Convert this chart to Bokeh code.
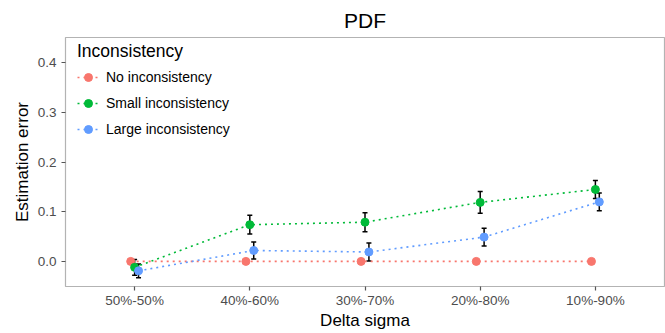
from bokeh.plotting import figure
from bokeh.models import (ColumnDataSource, Whisker, FixedTicker, Legend, LegendItem,
                          Range1d, TeeHead, NumeralTickFormatter)
from bokeh.embed import file_html
from bokeh.resources import INLINE

categories = ["50%-50%", "40%-60%", "30%-70%", "20%-80%", "10%-90%"]
series_names = ["No inconsistency", "Small inconsistency", "Large inconsistency"]
no_incons = [0.0, 0.0, 0.0, 0.0, 0.0]
small_incons = [-0.012, 0.074, 0.079, 0.119, 0.145]
large_incons = [-0.019, 0.022, 0.019, 0.049, 0.120]
small_err = [0.016, 0.019, 0.019, 0.022, 0.018]
large_err = [0.014, 0.017, 0.018, 0.018, 0.018]
colors = ["#F8766D", "#00BA38", "#619CFF"]
dodge = [-0.034, 0.0, 0.034]

FONT = "Liberation Sans"

p = figure(width=665, height=333, output_backend="svg", toolbar_location=None,
           x_range=Range1d(0.4, 5.6), y_range=Range1d(-0.0506, 0.4514),
           min_border_left=65, min_border_right=1, min_border_top=35, min_border_bottom=47,
           title="PDF")
p.background_fill_color = "white"
p.border_fill_color = "white"
p.outline_line_color = "#B3B3B3"
p.outline_line_width = 1.2
p.xgrid.visible = False
p.ygrid.visible = False

p.title.text_font = FONT
p.title.text_font_size = "21px"
p.title.text_font_style = "normal"
p.title.align = "center"
p.title.text_color = "black"
p.title.standoff = 12

base_x = list(range(1, len(categories) + 1))

p.xaxis.ticker = FixedTicker(ticks=base_x)
p.xaxis.major_label_overrides = {i + 1: c for i, c in enumerate(categories)}
p.yaxis.ticker = FixedTicker(ticks=[0.0, 0.1, 0.2, 0.3, 0.4])
p.yaxis.formatter = NumeralTickFormatter(format="0.0")
for ax in (p.xaxis, p.yaxis):
    ax.axis_line_color = None
    ax.major_tick_line_color = "#555555"
    ax.major_tick_line_width = 1.2
    ax.major_tick_in = 0
    ax.major_tick_out = 4
    ax.minor_tick_line_color = None
    ax.major_label_text_font = FONT
    ax.major_label_text_font_size = "13.5px"
    ax.major_label_text_color = "#4D4D4D"
    ax.axis_label_text_font = FONT
    ax.axis_label_text_font_size = "17px"
    ax.axis_label_text_font_style = "normal"
    ax.axis_label_text_color = "black"
p.xaxis.axis_label = "Delta sigma"
p.yaxis.axis_label = "Estimation error"
p.xaxis.major_label_standoff = 2
p.yaxis.major_label_standoff = 5
p.xaxis.axis_label_standoff = 0
p.yaxis.axis_label_standoff = 3

values = [no_incons, small_incons, large_incons]
errors = [None, small_err, large_err]
items = []
line_rs, pt_rs = [], []
for k in range(3):
    xs = [b + dodge[k] for b in base_x]
    src = dict(x=xs, y=values[k])
    if errors[k] is not None:
        src["lower"] = [v - e for v, e in zip(values[k], errors[k])]
        src["upper"] = [v + e for v, e in zip(values[k], errors[k])]
    source = ColumnDataSource(src)
    lr = p.line("x", "y", source=source, line_color=colors[k], line_width=1.6, line_dash="2 4")
    line_rs.append(lr)
    if errors[k] is not None:
        w = Whisker(base="x", lower="lower", upper="upper", source=source,
                    line_color="black", line_width=1.5,
                    upper_head=TeeHead(size=5, line_color="black", line_width=1.5),
                    lower_head=TeeHead(size=5, line_color="black", line_width=1.5))
        p.add_layout(w)
    pr = p.scatter("x", "y", source=source, size=8, fill_color=colors[k], line_color=colors[k])
    pt_rs.append((source, pr))

for k in range(3):
    items.append(LegendItem(label=series_names[k], renderers=[line_rs[k], pt_rs[k][1]]))

legend = Legend(items=items, location=(12, 147), title="Inconsistency")
legend.title_text_font = FONT
legend.title_text_font_size = "17.5px"
legend.title_text_font_style = "normal"
legend.title_text_color = "black"
legend.title_standoff = 5
legend.label_text_font = FONT
legend.label_text_font_size = "14px"
legend.label_text_color = "black"
legend.label_standoff = 7
legend.glyph_width = 22
legend.glyph_height = 20
legend.label_height = 20
legend.spacing = 6
legend.padding = 4
legend.margin = 0
legend.border_line_color = None
legend.background_fill_color = "white"
legend.background_fill_alpha = 1.0
p.add_layout(legend)

open("out.html", "w").write(file_html(p, INLINE))
